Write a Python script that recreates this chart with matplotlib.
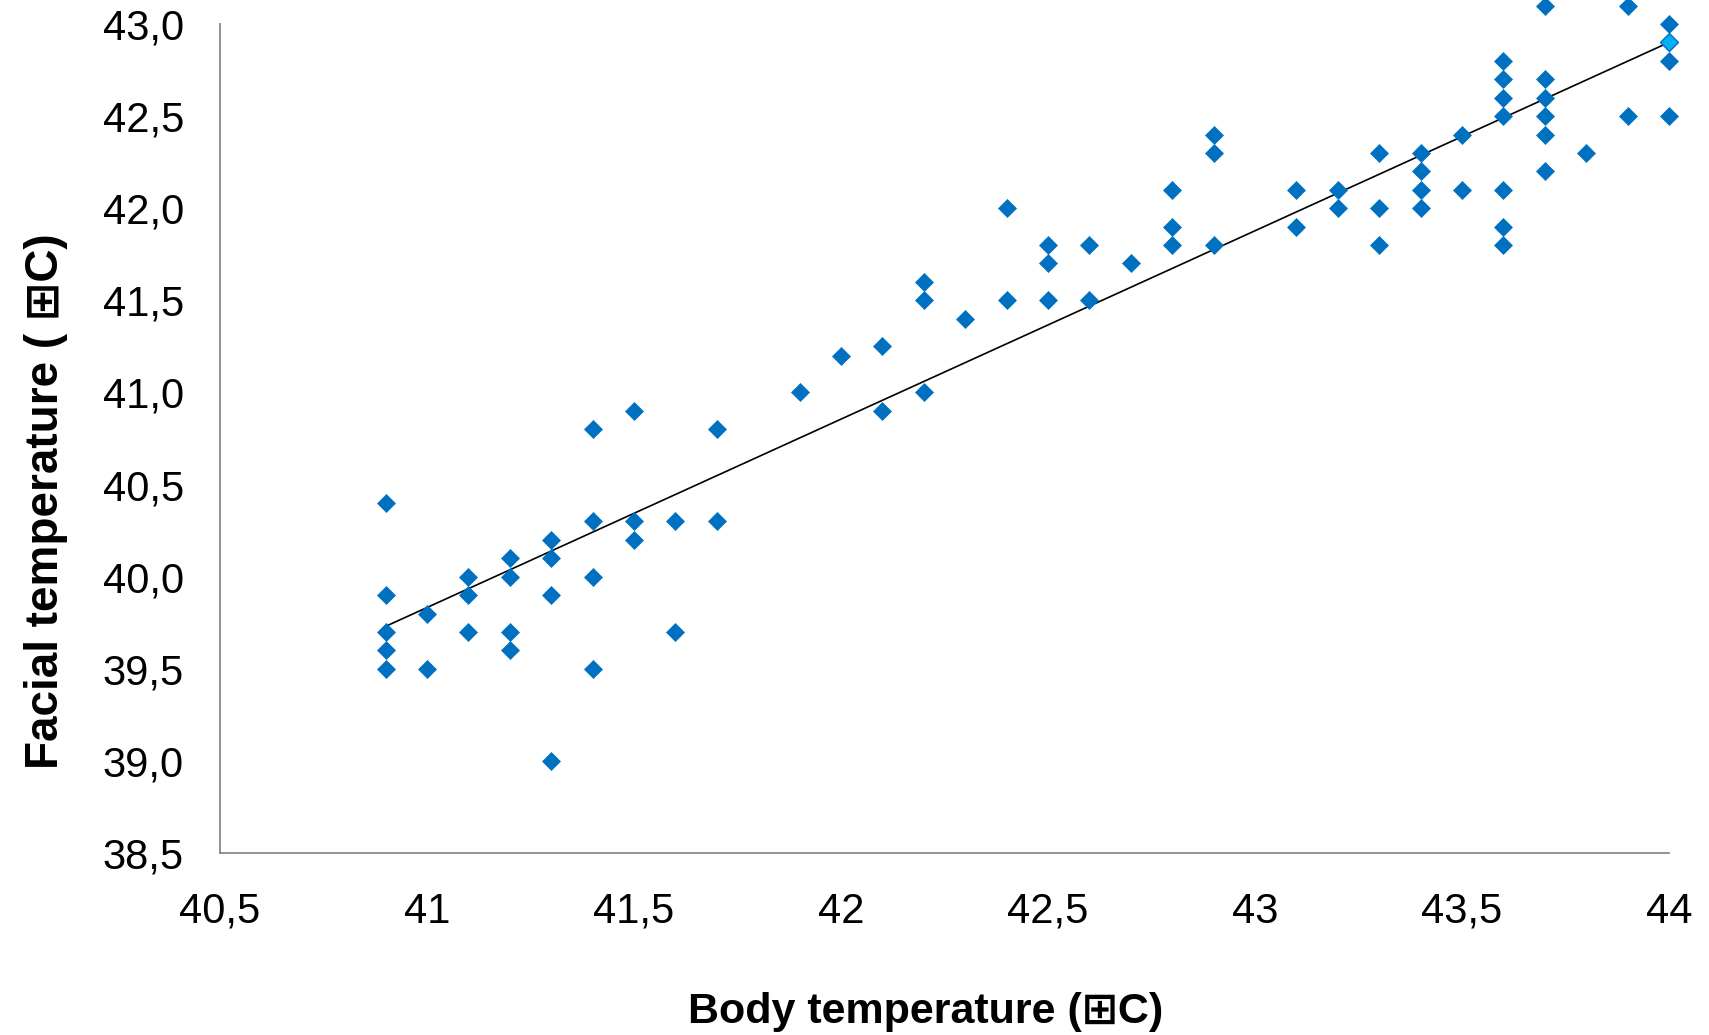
import numpy as np
import matplotlib
matplotlib.use('Agg')
import matplotlib.pyplot as plt
from matplotlib.ticker import FuncFormatter, MultipleLocator

# Datos: temperatura corporal vs temperatura facial
body = [40.9, 40.9, 40.9, 40.9, 40.9,
        41.0, 41.0,
        41.1, 41.1, 41.1,
        41.2, 41.2, 41.2, 41.2,
        41.3, 41.3, 41.3, 41.3,
        41.4, 41.4, 41.4, 41.4,
        41.5, 41.5, 41.5,
        41.6, 41.6,
        41.7, 41.7,
        41.9, 42.0,
        42.1, 42.1,
        42.2, 42.2, 42.2,
        42.3,
        42.4, 42.4,
        42.5, 42.5, 42.5,
        42.6, 42.6,
        42.7,
        42.8, 42.8, 42.8,
        42.9, 42.9, 42.9,
        43.1, 43.1,
        43.2, 43.2,
        43.3, 43.3, 43.3,
        43.4, 43.4, 43.4, 43.4,
        43.5, 43.5,
        43.6, 43.6, 43.6, 43.6, 43.6, 43.6, 43.6,
        43.7, 43.7, 43.7, 43.7, 43.7, 43.7,
        43.8,
        43.9, 43.9,
        44.0, 44.0, 44.0]
facial = [40.4, 39.9, 39.7, 39.6, 39.5,
          39.8, 39.5,
          40.0, 39.9, 39.7,
          40.1, 40.0, 39.7, 39.6,
          40.2, 40.1, 39.9, 39.0,
          40.8, 40.3, 40.0, 39.5,
          40.9, 40.3, 40.2,
          40.3, 39.7,
          40.8, 40.3,
          41.0, 41.2,
          41.25, 40.9,
          41.6, 41.5, 41.0,
          41.4,
          42.0, 41.5,
          41.8, 41.7, 41.5,
          41.8, 41.5,
          41.7,
          42.1, 41.9, 41.8,
          42.4, 42.3, 41.8,
          42.1, 41.9,
          42.1, 42.0,
          42.3, 42.0, 41.8,
          42.3, 42.2, 42.1, 42.0,
          42.4, 42.1,
          42.8, 42.7, 42.6, 42.5, 42.1, 41.9, 41.8,
          43.1, 42.7, 42.6, 42.5, 42.4, 42.2,
          42.3,
          43.1, 42.5,
          43.0, 42.8, 42.5]
# punto resaltado (color claro)
hl_body = [44.0]
hl_facial = [42.9]

x_all = np.array(body + hl_body)
y_all = np.array(facial + hl_facial)
m, b = np.polyfit(x_all, y_all, 1)

plt.rcParams['font.family'] = ['Liberation Sans', 'DejaVu Sans']

fig = plt.figure(figsize=(17.09, 10.35), dpi=100)
ax = fig.add_axes([220 / 1709, 1 - 853 / 1035, 1449 / 1709, 829 / 1035])

xl = np.array([min(x_all), max(x_all)])
ax.plot(xl, m * xl + b, color='black', lw=1.2, zorder=2)
ax.plot(body, facial, 'D', color='#0070C0', ms=9.6, mec='#0070C0', mew=0.5,
        clip_on=False, zorder=3)
ax.plot(hl_body, hl_facial, 'D', color='#00B0F0', ms=9.6, mec='#0070C0', mew=1,
        clip_on=False, zorder=4)

ax.set_xlim(40.5, 44)
ax.set_ylim(38.5, 43.0)
ax.xaxis.set_major_locator(MultipleLocator(0.5))
ax.yaxis.set_major_locator(MultipleLocator(0.5))
ax.xaxis.set_major_formatter(FuncFormatter(lambda v, p: f'{v:g}'.replace('.', ',')))
ax.yaxis.set_major_formatter(FuncFormatter(lambda v, p: f'{v:.1f}'.replace('.', ',')))
ax.tick_params(length=0, labelsize=30, labelcolor='black')
ax.tick_params(axis='x', pad=28)
ax.tick_params(axis='y', pad=26)

for s in ['top', 'right']:
    ax.spines[s].set_visible(False)
for s in ['left', 'bottom']:
    ax.spines[s].set_color('#898989')
    ax.spines[s].set_linewidth(1.3)

fig.text(926 / 1709, 1 - 1012 / 1035, 'Body temperature (⊞C)', ha='center', va='center',
         fontsize=31, fontweight='bold')
fig.text(46 / 1709, 1 - 501 / 1035, 'Facial temperature ( ⊞C)', ha='center', va='center',
         fontsize=33, fontweight='bold', rotation=90)

fig.savefig('out.png', dpi=100)
